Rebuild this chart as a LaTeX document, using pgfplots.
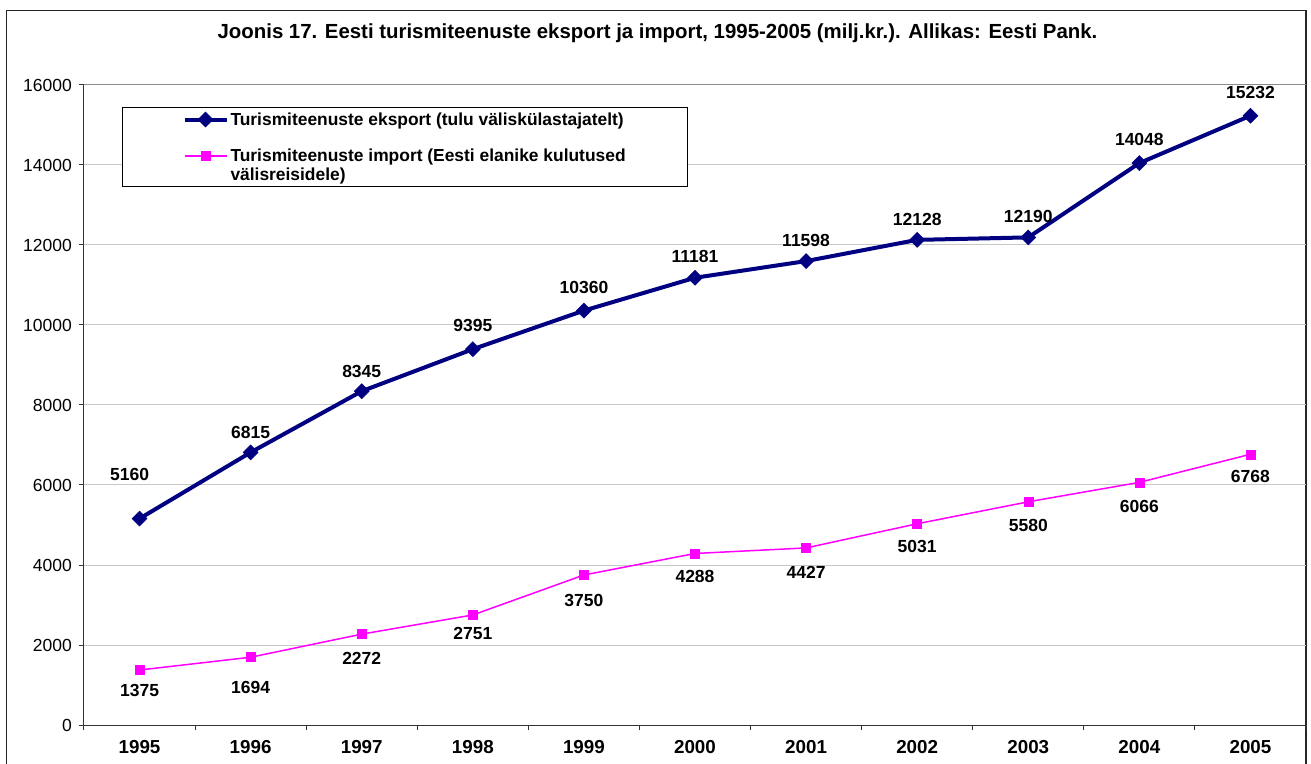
\documentclass[border=0pt]{standalone}
\usepackage{fontspec}
\setmainfont{Liberation Sans}
\usepackage{pgfplots}
\usepackage{pgfplotstable}
\pgfplotsset{compat=1.18}
\definecolor{expc}{HTML}{000080}
\definecolor{impc}{HTML}{FF00FF}
\definecolor{gridc}{HTML}{C8C8C8}
\definecolor{topc}{HTML}{8C8C8C}

\pgfplotstableread{
x y dx dy
0 5160 -10 44
1 6815 0 20
2 8345 0 20
3 9395 0 24
4 10360 0 23
5 11181 0 21
6 11598 0 21
7 12128 0 20
8 12190 0 21
9 14048 0 24
10 15232 0 23
}\exporttable

\pgfplotstableread{
x y dx dy
0 1375 0 -20
1 1694 0 -30
2 2272 0 -24
3 2751 0 -19
4 3750 0 -25
5 4288 0 -23
6 4427 0 -24
7 5031 0 -23
8 5580 0 -24
9 6066 0 -24
10 6768 0 -22
}\importtable

\pgfkeys{/pgf/number format/.cd,1000 sep={},assume math mode=true}

\begin{document}
\begin{tikzpicture}
\path[use as bounding box] (0pt,0pt) rectangle (1311pt,763pt);
\draw[line width=1.5pt, black!85] (6.5pt,-20pt) rectangle (1306pt,752.5pt);
\node[font=\fontsize{20.4}{24}\selectfont\bfseries] at (657.5pt,730pt) {Joonis 17. Eesti turismiteenuste eksport ja import, 1995-2005 (milj.kr.). Allikas: Eesti Pank.};
\begin{axis}[
  scale only axis, width=1222pt, height=640pt,
  at={(84pt,38pt)}, anchor=south west,
  xmin=-0.5, xmax=10.5, ymin=0, ymax=16000,
  clip=false,
  axis x line=bottom, axis y line=left,
  axis line style={-, black!80, line width=1pt},
  xtick={-0.5,0.5,1.5,2.5,3.5,4.5,5.5,6.5,7.5,8.5,9.5,10.5},
  xticklabels={},
  extra x ticks={0,1,2,3,4,5,6,7,8,9,10},
  extra x tick labels={1995,1996,1997,1998,1999,2000,2001,2002,2003,2004,2005},
  extra x tick style={major tick length=0pt, tick label style={font=\fontsize{18.8}{22}\selectfont\bfseries, yshift=-12pt}},
  ytick={0,2000,4000,6000,8000,10000,12000,14000,16000},
  scaled y ticks=false,
  ymajorgrids, grid style={gridc, line width=1pt},
  tick align=outside, major tick length=5pt,
  tick style={black!80, line width=1pt},
  y tick label style={font=\fontsize{17.5}{20}\selectfont, xshift=-3.7pt},
  /pgf/number format/1000 sep={},
  /pgf/number format/assume math mode=true,
  legend style={at={(0.0311,0.9656)}, anchor=north west, draw=black, line width=1pt,
    inner xsep=60pt, inner ysep=3pt, row sep=18pt,
    font=\fontsize{17.4}{19}\selectfont\bfseries, cells={align=left}},
  legend cell align=left,
  legend image code/.code={\draw[mark repeat=2,mark phase=2] plot coordinates {(0pt,0pt) (21pt,0pt) (42pt,0pt)};},
  every node near coord/.append style={anchor=center, font=\fontsize{17.5}{20}\selectfont\bfseries, text=black},
]
\draw[topc, line width=1pt] (rel axis cs:0,1) -- (rel axis cs:1,1);
\addplot[expc, line width=4pt, mark=square*, mark size=5.3pt,
  mark options={solid, rotate=45, line width=0.5pt},
  nodes near coords, point meta=explicit,
  visualization depends on={\thisrow{dx}\as\dx},
  visualization depends on={\thisrow{dy}\as\dy},
  every node near coord/.append style={xshift=\dx pt, yshift=\dy pt}]
  table[x=x, y=y, meta=y]{\exporttable};
\addlegendentry{Turismiteenuste eksport (tulu väliskülastajatelt)}
\addplot[impc, line width=1.5pt, mark=square*, mark size=4.5pt,
  mark options={solid, line width=0.5pt},
  nodes near coords, point meta=explicit,
  visualization depends on={\thisrow{dx}\as\dx},
  visualization depends on={\thisrow{dy}\as\dy},
  every node near coord/.append style={xshift=\dx pt, yshift=\dy pt},
  legend image code/.code={\draw[mark repeat=2,mark phase=2] plot coordinates {(0pt,9pt) (21pt,9pt) (42pt,9pt)};}]
  table[x=x, y=y, meta=y]{\importtable};
\addlegendentry{Turismiteenuste import (Eesti elanike kulutused\\välisreisidele)}
\end{axis}
\end{tikzpicture}
\end{document}
